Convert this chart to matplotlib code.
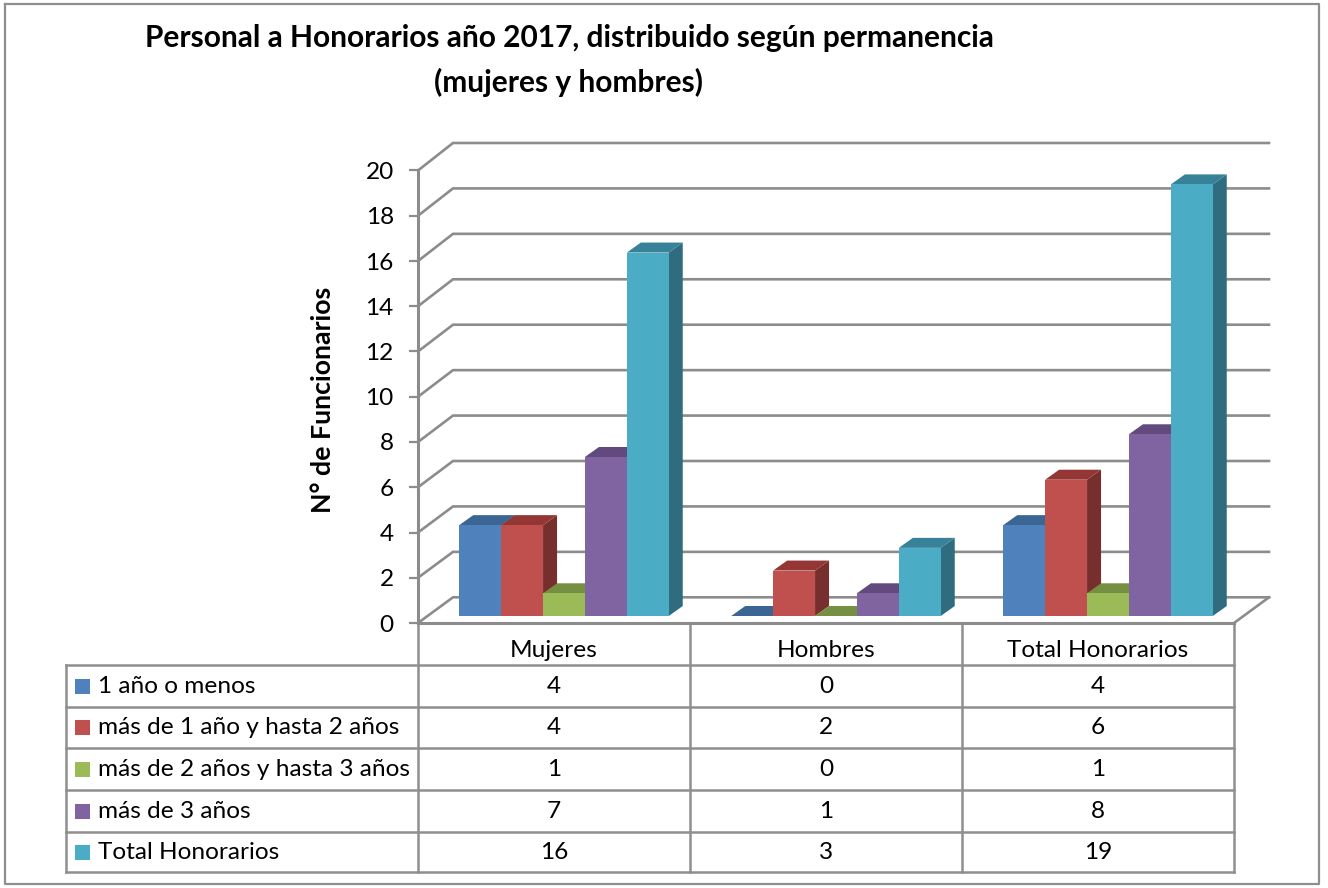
import matplotlib
matplotlib.use('Agg')
import matplotlib.pyplot as plt

plt.rcParams['font.family'] = ['Lato', 'DejaVu Sans']

categories = ['Mujeres', 'Hombres', 'Total Honorarios']
series_names = ['1 año o menos', 'más de 1 año y hasta 2 años', 'más de 2 años y hasta 3 años',
                'más de 3 años', 'Total Honorarios']
series_values = [
    [4, 0, 4],
    [4, 2, 6],
    [1, 0, 1],
    [7, 1, 8],
    [16, 3, 19],
]
front_colors = ['#4F81BD', '#C0504D', '#9BBB59', '#8064A2', '#4BACC6']
top_colors = ['#3B6593', '#933634', '#769043', '#624A7E', '#378199']
side_colors = ['#2F4E72', '#772F2D', '#5F7536', '#4D3A66', '#2F6C80']
y_ticks = list(range(0, 21, 2))

title_lines = ['Personal a Honorarios año 2017, distribuido según permanencia', '(mujeres y hombres)']
y_label = 'N° de Funcionarios'

W, H = 1328, 888
grid_color = '#8C8C8C'
table_color = '#8F8F8F'

fig = plt.figure(figsize=(W / 100, H / 100), dpi=100, facecolor='white')

# overlay in pixels for the frame, the title and the table
over = fig.add_axes([0, 0, 1, 1], zorder=0)
over.set_xlim(0, W)
over.set_ylim(H, 0)
over.axis('off')

# chart axes: 0..3 categories, 0..20 values
left, right, top, bottom = 418, 1234, 170.5, 623
ax = fig.add_axes([left / W, 1 - bottom / H, (right - left) / W, (bottom - top) / H], zorder=1)
ax.set_xlim(0, 3)
ax.set_ylim(0, 20)
ax.patch.set_alpha(0)
for s in ax.spines.values():
    s.set_visible(False)

px = 3 / (right - left)
py = 20 / (bottom - top)

# back wall depth, bar depth, bar offset from the front of the floor
wall_dx, wall_dy = 35 * px, 25.7 * py
bar_dx, bar_dy = 14 * px, 10 * py
off_dx, off_dy = 10 * px, 7 * py
bar_w = 41.9 * px
# things further back come out a little taller
depth_scale = 1.004

for t in y_ticks:
    back = t * depth_scale + wall_dy
    ax.plot([0, wall_dx, 3 + wall_dx], [t, back, back], color=grid_color, lw=1.9,
            clip_on=False, solid_joinstyle='miter', zorder=1)
ax.plot([3, 3 + wall_dx], [0, wall_dy], color=grid_color, lw=1.9, clip_on=False, zorder=1)
ax.plot([0, 3], [0, 0], color=grid_color, lw=2.2, clip_on=False, zorder=2)
ax.plot([0, 0], [0, 20], color=grid_color, lw=2.2, clip_on=False, zorder=2)

n = len(series_values)
for c in range(len(categories)):
    for i in range(n):
        v = series_values[i][c] * depth_scale
        x0 = c + 0.5 + off_dx - n * bar_w / 2 + i * bar_w
        x1 = x0 + bar_w
        y0 = off_dy
        y1 = v + off_dy
        z = 3 + i
        ax.fill([x1, x1 + bar_dx, x1 + bar_dx, x1], [y0, y0 + bar_dy, y1 + bar_dy, y1],
                color=side_colors[i], lw=0, clip_on=False, zorder=z)
        ax.fill([x0, x0 + bar_dx, x1 + bar_dx, x1], [y1, y1 + bar_dy, y1 + bar_dy, y1],
                color=top_colors[i], lw=0, clip_on=False, zorder=z)
        ax.bar(x0, v, width=bar_w, bottom=off_dy, align='edge', color=front_colors[i], lw=0,
               clip_on=False, zorder=z)

ax.set_xticks([])
ax.set_yticks(y_ticks)
ax.tick_params(axis='y', length=6.5, width=1.6, color=grid_color, labelsize=17.6, pad=11, labelcolor='black')

# outer frame
over.plot([5, 1319, 1319, 5, 5], [4, 4, 884, 884, 4], color='#8E8E8E', lw=1.6)

for txt, y in zip(title_lines, [38, 82]):
    over.text(569, y, txt, ha='center', va='center', fontsize=21.5, fontweight='bold', color='black')
over.text(323, 400, y_label, rotation=90, ha='center', va='center', fontsize=19.3,
          fontweight='bold', color='black')

# table
col_x = [418, 690, 962, 1234]
row_y = [665, 707, 748, 790, 832, 872]
label_x = 66
for x in col_x:
    over.plot([x, x], [623, 872], color=table_color, lw=1.8)
over.plot([label_x, label_x], [665, 872], color=table_color, lw=1.8)
for y in row_y:
    over.plot([label_x, 1234], [y, y], color=table_color, lw=1.8)

for j, cat in enumerate(categories):
    over.text((col_x[j] + col_x[j + 1]) / 2, 650, cat, ha='center', va='center', fontsize=17.6)
for i, name in enumerate(series_names):
    yc = (row_y[i] + row_y[i + 1]) / 2
    over.fill([75, 90, 90, 75], [yc - 7.5, yc - 7.5, yc + 7.5, yc + 7.5], color=front_colors[i], lw=0)
    over.text(98, yc, name, ha='left', va='center', fontsize=17.6)
    for j in range(len(categories)):
        over.text((col_x[j] + col_x[j + 1]) / 2, yc, str(series_values[i][j]), ha='center', va='center',
                  fontsize=17.6)

fig.savefig('out.png', dpi=100)
